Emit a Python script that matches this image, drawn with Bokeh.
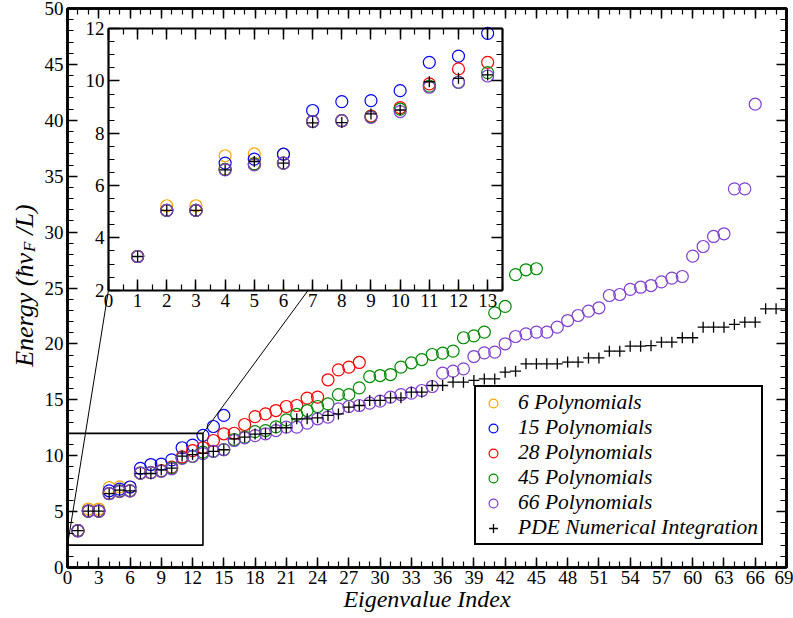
import math

from bokeh.core.properties import value
from bokeh.embed import file_html
from bokeh.layouts import row
from bokeh.models import (CustomJSTickFormatter, Legend, LegendItem, LinearAxis,
                          Range1d, SingleIntervalTicker)
from bokeh.plotting import figure
from bokeh.resources import INLINE

# Eigenvalue energies (units of hbar v_F / L), index 1..N for each basis size
e6 = [3.29, 5.23, 5.23, 7.14, 7.21, 7.20]
e15 = [3.29, 5.05, 5.05, 6.86, 7.01, 7.20, 8.87, 9.21, 9.25, 9.63, 10.71, 10.95,
       11.82, 12.61, 13.60]
e28 = [3.29, 5.05, 5.05, 6.62, 6.83, 6.86, 8.45, 8.48, 8.66, 8.98, 9.89, 10.46,
       10.71, 11.36, 11.96, 12.01, 12.79, 13.50, 13.74, 14.04, 14.40, 14.49, 15.15,
       15.24, 16.79, 17.68, 17.92, 18.34]
e45 = [3.29, 5.05, 5.05, 6.62, 6.83, 6.86, 8.45, 8.48, 8.63, 8.92, 9.80, 9.95,
       10.32, 10.40, 10.55, 11.45, 11.66, 12.15, 12.25, 12.58, 13.21, 13.69, 14.04,
       14.40, 14.64, 15.47, 15.47, 16.07, 17.08, 17.17, 17.26, 17.92, 18.31, 18.60,
       19.05, 19.17, 19.35, 20.55, 20.72, 21.05, 22.78, 23.35, 26.20, 26.63, 26.72]
e66 = [3.29, 5.05, 5.05, 6.60, 6.79, 6.86, 8.45, 8.48, 8.61, 8.83, 9.76, 9.95,
       10.19, 10.38, 10.53, 11.36, 11.60, 11.80, 11.96, 12.25, 12.55, 12.55, 12.91,
       13.30, 13.45, 14.19, 14.40, 14.49, 14.70, 14.88, 15.24, 15.47, 15.59, 15.83,
       16.19, 17.38, 17.56, 17.77, 18.87, 19.20, 19.26, 20.01, 20.66, 20.90, 21.05,
       21.05, 21.50, 22.09, 22.54, 22.93, 23.23, 24.33, 24.42, 24.88, 25.07, 25.22,
       25.55, 25.88, 26.03, 27.85, 28.71, 29.61, 29.85, 33.87, 33.87, 41.44]
e_pde = [3.29, 5.05, 5.05, 6.60, 6.92, 6.86, 8.40, 8.41, 8.74, 8.89, 9.97, 10.10,
         10.23, 10.38, 10.53, 11.50, 11.67, 11.93, 11.98, 12.50, 12.50, 13.30, 13.30,
         13.39, 13.60, 13.74, 14.34, 14.49, 14.94, 14.94, 15.18, 15.18, 15.68, 15.68,
         16.28, 16.28, 16.58, 16.58, 16.73, 16.87, 16.87, 17.47, 17.56, 18.22, 18.22,
         18.22, 18.22, 18.37, 18.37, 18.75, 18.75, 19.35, 19.35, 19.80, 19.80, 19.84,
         20.15, 20.15, 20.55, 20.55, 21.50, 21.50, 21.50, 21.74, 21.94, 21.94, 23.14,
         23.14, 23.14]

poly_labels = ["6 Polynomials", "15 Polynomials", "28 Polynomials",
               "45 Polynomials", "66 Polynomials"]
poly_series = [e6, e15, e28, e45, e66]
poly_colors = ["#FFA500", "#0000FF", "#FF0000", "#008B00", "#8040D0"]
pde_label = "PDE Numerical Integration"
x_title = "Eigenvalue Index"
# y title pieces: main text, subscript, closing text
y_title = ["Energy (\u0127v", "F", "/L)"]

FONT = "Liberation Serif"
TICK_SIZE = "19px"

# main axes window
X_RANGE = (0, 69)
Y_RANGE = (0, 50)
# zoomed window and where the inset sits (in main data coordinates)
ZOOM_X = (0, 13)
ZOOM_Y = (2, 12)
INSET_X = (0, 13.5)
INSET_Y = (2, 12)
INSET_BOX_X = (3.93, 41.72)
INSET_BOX_Y = (24.8, 48.2)
CONNECTOR_END_X = 23.1

TITLE_W = 40          # width of the strip holding the rotated y title
BORDER_TOP, BORDER_BOTTOM = 8, 51

p = figure(width=793 - TITLE_W, height=618, x_range=Range1d(*X_RANGE),
           y_range=Range1d(*Y_RANGE), output_backend="svg", toolbar_location=None,
           min_border_left=67 - TITLE_W, min_border_right=7,
           min_border_top=BORDER_TOP, min_border_bottom=BORDER_BOTTOM)
p.grid.visible = False
p.outline_line_color = "black"
p.outline_line_width = 2.5
p.background_fill_color = "white"
p.border_fill_color = "white"

blank = CustomJSTickFormatter(code="return ''")


def style_axis(ax, labels=True, major=10, minor=6):
    ax.axis_line_color = "black"
    ax.axis_line_width = 2.5
    ax.major_tick_in = major
    ax.major_tick_out = 0
    ax.minor_tick_in = minor
    ax.minor_tick_out = 0
    ax.major_tick_line_width = 1.5
    ax.minor_tick_line_width = 1.2
    ax.major_label_text_font = FONT
    ax.major_label_text_font_size = TICK_SIZE
    ax.major_label_text_color = "black"
    ax.major_label_standoff = 4
    if not labels:
        ax.formatter = blank
        ax.major_label_standoff = 0


# main axes on all four sides, ticks pointing inward
p.xaxis.ticker = SingleIntervalTicker(interval=3, num_minor_ticks=3)
p.yaxis.ticker = SingleIntervalTicker(interval=5, num_minor_ticks=5)
style_axis(p.xaxis[0])
style_axis(p.yaxis[0])
p.xaxis.major_label_standoff = 3
p.yaxis.major_label_standoff = 4
p.xaxis.axis_label = x_title
p.xaxis.axis_label_text_font = FONT
p.xaxis.axis_label_text_font_style = "italic"
p.xaxis.axis_label_text_font_size = "24px"
p.xaxis.axis_label_text_color = "black"
p.xaxis.axis_label_standoff = -1

top = LinearAxis(ticker=SingleIntervalTicker(interval=3, num_minor_ticks=3))
right = LinearAxis(ticker=SingleIntervalTicker(interval=5, num_minor_ticks=5))
style_axis(top, labels=False)
style_axis(right, labels=False)
p.add_layout(top, "above")
p.add_layout(right, "right")

# main scatter series
renderers = []
for vals, col in zip(poly_series, poly_colors):
    idx = list(range(1, len(vals) + 1))
    r = p.scatter(idx, vals, marker="circle", size=12, fill_color=None,
                  line_color=col, line_width=1.2)
    renderers.append(r)
pde_idx = list(range(1, len(e_pde) + 1))
r_pde = p.scatter(pde_idx, e_pde, marker="cross", size=11, line_color="black",
                  line_width=1.3)
renderers.append(r_pde)

# zoom window and connectors
p.quad(left=[ZOOM_X[0]], right=[ZOOM_X[1]], bottom=[ZOOM_Y[0]], top=[ZOOM_Y[1]],
       fill_color=None, line_color="black", line_width=1.6)
p.segment(x0=[ZOOM_X[0], ZOOM_X[1]], y0=[ZOOM_Y[0], ZOOM_Y[1]],
          x1=[INSET_BOX_X[0], CONNECTOR_END_X], y1=[INSET_BOX_Y[0], INSET_BOX_Y[0]],
          line_color="black", line_width=1)

# inset background
p.quad(left=[INSET_BOX_X[0]], right=[INSET_BOX_X[1]], bottom=[INSET_BOX_Y[0]],
       top=[INSET_BOX_Y[1]], fill_color="white", line_color=None)

# inset coordinate system mapped onto the inset box
sx = (INSET_BOX_X[1] - INSET_BOX_X[0]) / (INSET_X[1] - INSET_X[0])
sy = (INSET_BOX_Y[1] - INSET_BOX_Y[0]) / (INSET_Y[1] - INSET_Y[0])
p.extra_x_ranges = {"ix": Range1d(INSET_X[0] - (INSET_BOX_X[0] - X_RANGE[0]) / sx,
                                  INSET_X[1] + (X_RANGE[1] - INSET_BOX_X[1]) / sx)}
p.extra_y_ranges = {"iy": Range1d(INSET_Y[0] - (INSET_BOX_Y[0] - Y_RANGE[0]) / sy,
                                  INSET_Y[1] + (Y_RANGE[1] - INSET_BOX_Y[1]) / sy)}

n_inset = ZOOM_X[1]
for vals, col in zip(poly_series, poly_colors):
    v = vals[:n_inset]
    p.scatter(list(range(1, len(v) + 1)), v, marker="circle", size=12,
              fill_color=None, line_color=col, line_width=1.2,
              x_range_name="ix", y_range_name="iy")
v = e_pde[:n_inset]
p.scatter(list(range(1, len(v) + 1)), v, marker="cross", size=11,
          line_color="black", line_width=1.3, x_range_name="ix", y_range_name="iy")

inset_axes = [
    ("below", INSET_Y[0], INSET_X, SingleIntervalTicker(interval=1, num_minor_ticks=2), True),
    ("above", INSET_Y[1], INSET_X, SingleIntervalTicker(interval=1, num_minor_ticks=2), False),
    ("left", INSET_X[0], INSET_Y, SingleIntervalTicker(interval=2, num_minor_ticks=4), True),
    ("right", INSET_X[1], INSET_Y, SingleIntervalTicker(interval=2, num_minor_ticks=4), False),
]
for side, loc, bounds, ticker, labels in inset_axes:
    ax = LinearAxis(x_range_name="ix", y_range_name="iy", fixed_location=loc,
                    bounds=bounds, ticker=ticker)
    style_axis(ax, labels=labels, major=11, minor=6)
    ax.axis_line_width = 2.2
    p.add_layout(ax, side)

legend = Legend(
    items=[LegendItem(label=lab, renderers=[r])
           for lab, r in zip(poly_labels + [pde_label], renderers)],
    location=(407, 22),
    label_text_font=FONT, label_text_font_style="italic",
    label_text_font_size="21.5px", label_text_color="black",
    border_line_color="black", border_line_width=2, border_line_alpha=1.0,
    background_fill_color="white", background_fill_alpha=1.0,
    padding=3, spacing=0, margin=0, glyph_width=28, glyph_height=22,
    label_height=22, label_standoff=11,
)
p.add_layout(legend)

# strip on the left carrying the rotated y title (same vertical scale as the frame)
t = figure(width=TITLE_W, height=618, x_range=Range1d(0, TITLE_W),
           y_range=Range1d(*Y_RANGE), output_backend="svg", toolbar_location=None,
           x_axis_location=None, y_axis_location=None,
           min_border_left=0, min_border_right=0,
           min_border_top=BORDER_TOP, min_border_bottom=BORDER_BOTTOM)
t.grid.visible = False
t.outline_line_color = None
t.background_fill_color = "white"
t.border_fill_color = "white"

title_base_x = 24     # anchor of the rotated text (px in the strip)
title_sub_dx = 5      # subscript drop
title_y = [17.95, 28.22, 29.77]
t.text(x=[title_base_x, title_base_x + title_sub_dx, title_base_x],
       y=title_y, text=y_title, angle=math.pi / 2,
       text_font=value(FONT), text_font_style="italic",
       text_font_size=["26px", "17px", "26px"], text_color="black",
       text_align="left", text_baseline="alphabetic")

layout = row(t, p)
open("out.html", "w").write(file_html(layout, INLINE))
